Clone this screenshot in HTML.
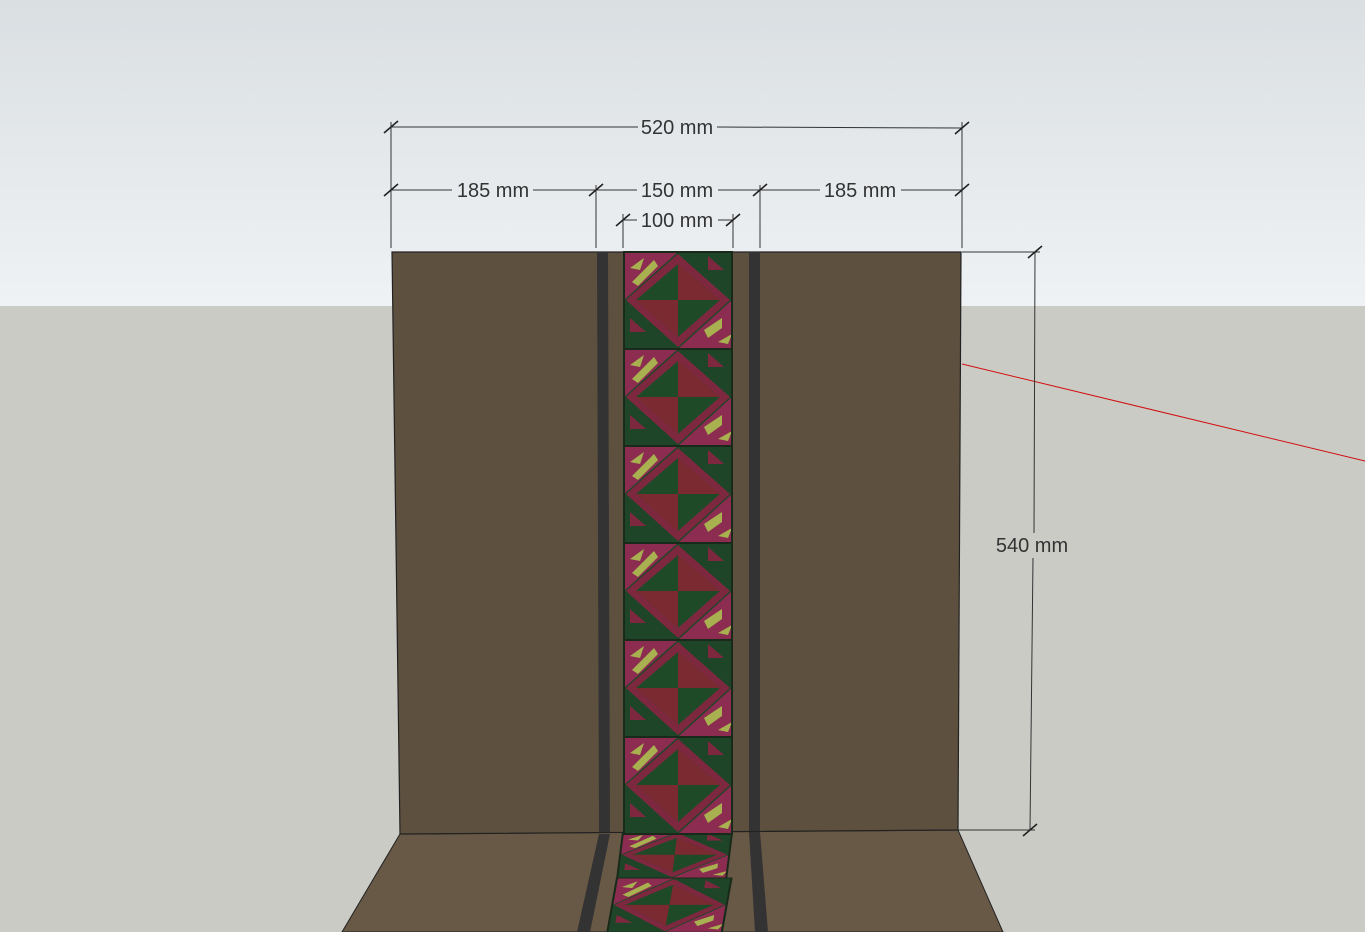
<!DOCTYPE html>
<html><head><meta charset="utf-8"><style>
html,body{margin:0;padding:0;width:1365px;height:932px;overflow:hidden;background:#cbcbc6}
svg{display:block}
text{font-family:"Liberation Sans","DejaVu Sans",sans-serif;font-size:20px;fill:#333}
</style></head><body>
<svg width="1365" height="932" viewBox="0 0 1365 932" xmlns="http://www.w3.org/2000/svg">
<defs>
<linearGradient id="sky" x1="0" y1="0" x2="0" y2="1">
<stop offset="0" stop-color="#dadfe2"/><stop offset="1" stop-color="#eff2f4"/>
</linearGradient>
<g id="tile">
<rect x="0" y="0" width="108" height="97" fill="#1f4528"/>
<polygon points="0,0 54,0 0,48" fill="#8c2c50"/>
<polygon points="108,97 54,97 108,48" fill="#8c2c50"/>
<polygon points="54,2 106,48 54,95 2,48" fill="#7e2840"/>
<polygon points="54,12 96,48 54,85 12,48" fill="#1f4a28"/>
<polygon points="54,12 96,48 54,48" fill="#7a2a30"/>
<polygon points="12,48 54,48 54,85" fill="#7a2a30"/>
<polygon points="6,16 20,6 16,18" fill="#a8b050"/>
<polygon points="8,30 30,8 34,14 14,34" fill="#a8b050"/>
<polygon points="80,78 98,66 98,76 84,86" fill="#a8b050"/>
<polygon points="94,90 108,82 104,92" fill="#a8b050"/>
<polygon points="84,4 100,18 84,18" fill="#7e2840"/>
<polygon points="6,66 22,80 6,80" fill="#7e2840"/>
<rect x="0" y="0" width="108" height="97" fill="none" stroke="#1a2a1a" stroke-width="2"/>
</g>
</defs>
<rect x="0" y="0" width="1365" height="306" fill="url(#sky)"/>
<rect x="0" y="306" width="1365" height="626" fill="#cbcbc6"/>
<line x1="962" y1="364" x2="1365" y2="461" stroke="#d01010" stroke-width="1"/>
<polygon points="400,834 958,830 1003,932 342,932" fill="#685846" stroke="#222" stroke-width="1"/>
<polygon points="599,834 610,834 590,932 577,932" fill="#333"/>
<polygon points="749,832 760,832 768,932 755,932" fill="#333"/>
<g transform="matrix(1.01,0,-0.06,0.475,623,832)"><use href="#tile"/></g>
<g transform="matrix(1.06,0,-0.1,0.56,617,878)"><use href="#tile"/></g>
<polygon points="392,252 961,252 958,830 400,834" fill="#5e503f" stroke="#222" stroke-width="1.2"/>
<polygon points="597,252 608,252 610,832 599,832" fill="#333"/>
<polygon points="749,252 760,252 760,831 749,831" fill="#333"/>
<g transform="translate(624,252)"><use href="#tile"/></g>
<g transform="translate(624,349)"><use href="#tile"/></g>
<g transform="translate(624,446)"><use href="#tile"/></g>
<g transform="translate(624,543)"><use href="#tile"/></g>
<g transform="translate(624,640)"><use href="#tile"/></g>
<g transform="translate(624,737)"><use href="#tile"/></g>
<g stroke="#333" stroke-width="1" fill="none">
<line x1="391" y1="122" x2="391" y2="248"/><line x1="962" y1="122" x2="962" y2="248"/>
<line x1="596" y1="185" x2="596" y2="248"/><line x1="760" y1="185" x2="760" y2="248"/>
<line x1="623" y1="214" x2="623" y2="248"/><line x1="733" y1="214" x2="733" y2="248"/>
<line x1="391" y1="127" x2="638" y2="127"/><line x1="717" y1="127" x2="962" y2="128"/>
<line x1="391" y1="190" x2="452" y2="190"/><line x1="533" y1="190" x2="596" y2="190"/>
<line x1="596" y1="190" x2="637" y2="190"/><line x1="718" y1="190" x2="760" y2="190"/>
<line x1="760" y1="190" x2="820" y2="190"/><line x1="901" y1="190" x2="962" y2="190"/>
<line x1="623" y1="220" x2="637" y2="220"/><line x1="718" y1="220" x2="733" y2="220"/>
<line x1="962" y1="252" x2="1040" y2="252"/><line x1="958" y1="830" x2="1035" y2="830"/>
<line x1="1035" y1="252" x2="1034" y2="533"/><line x1="1033" y1="558" x2="1030" y2="830"/>
</g>
<g stroke="#222" stroke-width="1.6">
<line x1="384" y1="133" x2="398" y2="121"/><line x1="955" y1="134" x2="969" y2="122"/>
<line x1="384" y1="196" x2="398" y2="184"/><line x1="589" y1="196" x2="603" y2="184"/>
<line x1="753" y1="196" x2="767" y2="184"/><line x1="955" y1="196" x2="969" y2="184"/>
<line x1="616" y1="226" x2="630" y2="214"/><line x1="726" y1="226" x2="740" y2="214"/>
<line x1="1028" y1="258" x2="1042" y2="246"/><line x1="1023" y1="836" x2="1037" y2="824"/>
</g>
<text x="677" y="134" text-anchor="middle">520 mm</text>
<text x="493" y="197" text-anchor="middle">185 mm</text>
<text x="677" y="197" text-anchor="middle">150 mm</text>
<text x="860" y="197" text-anchor="middle">185 mm</text>
<text x="677" y="227" text-anchor="middle">100 mm</text>
<text x="1032" y="552" text-anchor="middle">540 mm</text>
</svg>
</body></html>
